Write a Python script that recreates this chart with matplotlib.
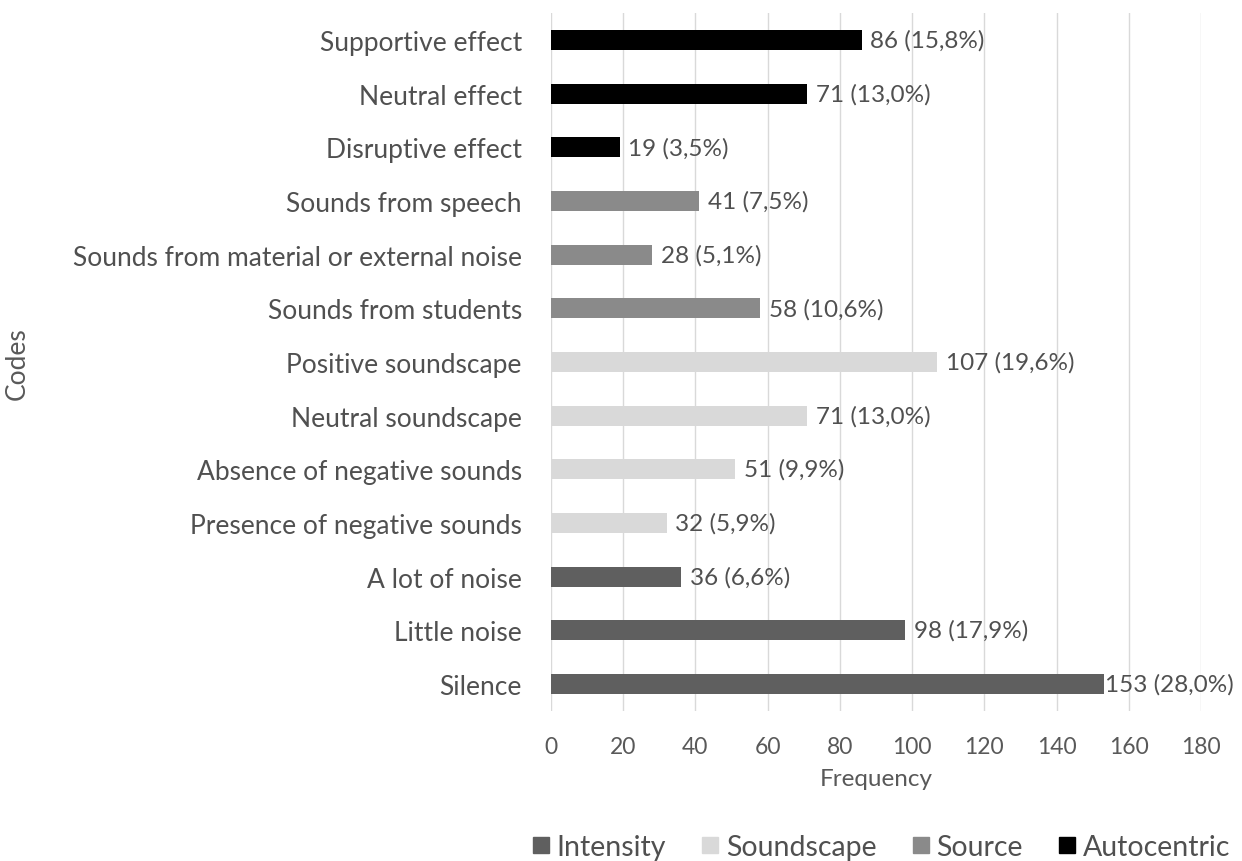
import numpy as np
import matplotlib.pyplot as plt
from matplotlib.lines import Line2D

plt.rcParams['font.family'] = ['Lato', 'DejaVu Sans']

# codes from bottom to top, grouped by category
codes = ['Silence', 'Little noise', 'A lot of noise',
         'Presence of negative sounds', 'Absence of negative sounds',
         'Neutral soundscape', 'Positive soundscape',
         'Sounds from students', 'Sounds from material or external noise',
         'Sounds from speech',
         'Disruptive effect', 'Neutral effect', 'Supportive effect']
freq = [153, 98, 36, 32, 51, 71, 107, 58, 28, 41, 19, 71, 86]
pct = ['28,0%', '17,9%', '6,6%', '5,9%', '9,9%', '13,0%', '19,6%',
       '10,6%', '5,1%', '7,5%', '3,5%', '13,0%', '15,8%']
group = ['Intensity'] * 3 + ['Soundscape'] * 4 + ['Source'] * 3 + ['Autocentric'] * 3

groups = ['Intensity', 'Soundscape', 'Source', 'Autocentric']
colors = {'Intensity': '#5f5f5f', 'Soundscape': '#d9d9d9',
          'Source': '#8a8a8a', 'Autocentric': '#000000'}
txt = '#505050'

fig = plt.figure(figsize=(12.42, 8.62), dpi=100)
ax = fig.add_axes([0.4436, 0.1743, 0.5234, 0.8092])

y = np.arange(len(codes))
ax.barh(y, freq, height=0.37, color=[colors[g] for g in group], zorder=3)
for yi, v, p in zip(y, freq, pct):
    gap = 0.4 if v > 150 else 2.4
    ax.text(v + gap, yi, f'{v} ({p})', va='center', ha='left',
            fontsize=17.5, color=txt)

ax.set_xlim(0, 180)
ax.set_ylim(-0.5, len(codes) - 0.5)
ax.set_xticks(np.arange(0, 181, 20))
ax.set_yticks(y)
ax.set_yticklabels(codes, fontsize=19, color=txt)
ax.tick_params(axis='x', labelsize=16.5, labelcolor='#595959', length=0, pad=18)
ax.tick_params(axis='y', length=0, pad=21)
ax.grid(axis='x', color='#d9d9d9', linewidth=1, zorder=0)
for s in ax.spines.values():
    s.set_visible(False)

ax.set_xlabel('Frequency', fontsize=17.5, color='#595959', labelpad=8)
fig.text(0.004, 0.578, 'Codes', rotation=90, fontsize=19, color='#595959',
         va='center', ha='left')

handles = [Line2D([], [], marker='s', linestyle='none', markersize=12,
                  markerfacecolor=colors[g], markeredgecolor=colors[g])
           for g in groups]
fig.legend(handles, groups, loc='center right', bbox_to_anchor=(1.011, 0.016),
           ncol=4, frameon=False, fontsize=20.5, labelcolor=txt,
           handletextpad=0.15, columnspacing=1.15, handlelength=0.8)

fig.savefig('out.png', dpi=100)
